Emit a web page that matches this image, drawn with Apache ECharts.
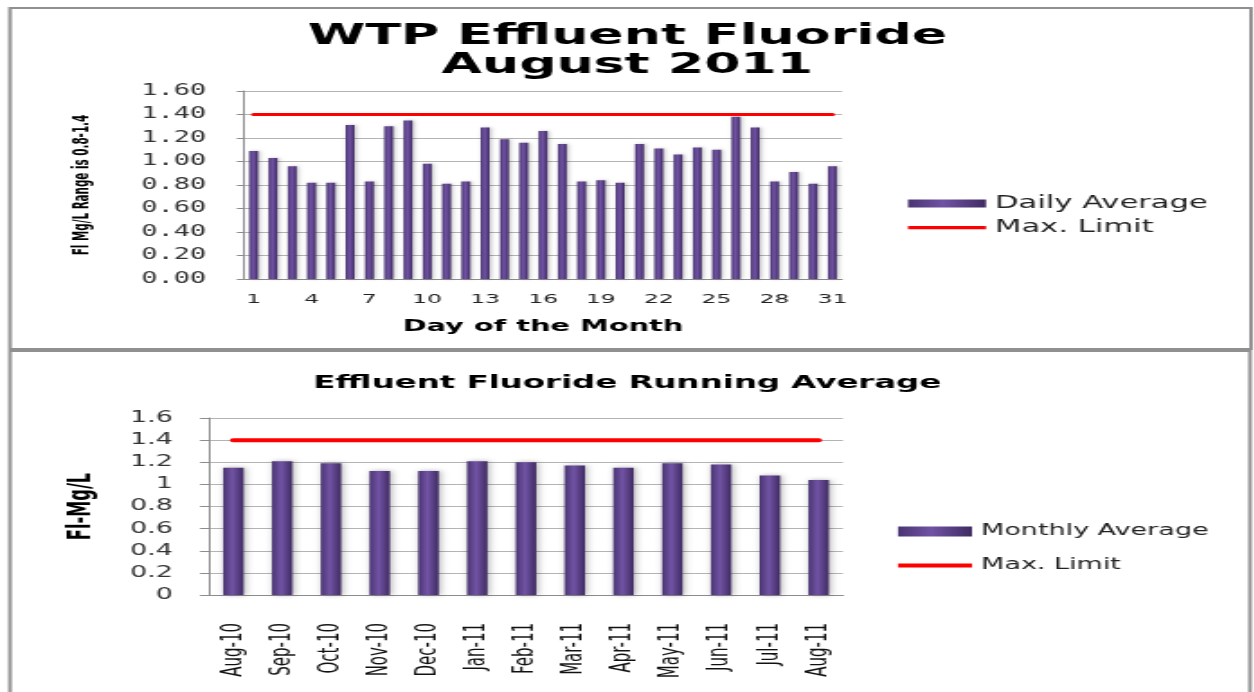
<!DOCTYPE html>
<html>
<head>
<meta charset="utf-8">
<title>WTP Effluent Fluoride</title>
<script src="https://cdn.jsdelivr.net/npm/echarts@6/dist/echarts.min.js"></script>
<style>
  html, body { margin: 0; padding: 0; background: #fff; overflow: hidden; }
  /* the source picture is stretched sideways, so draw narrow and stretch the canvas */
  #chart { width: 697px; height: 692px; transform: scaleX(1.8); transform-origin: 0 0; }
</style>
</head>
<body>
<div id="chart"></div>
<script>
// horizontal stretch of the whole picture
var SX = 1.8;

// top chart: daily values for August 2011
var days = ["1", "2", "3", "4", "5", "6", "7", "8", "9", "10", "11", "12", "13", "14", "15", "16",
  "17", "18", "19", "20", "21", "22", "23", "24", "25", "26", "27", "28", "29", "30", "31"];
var dailyAverage = [1.09, 1.03, 0.96, 0.82, 0.82, 1.31, 0.83, 1.30, 1.35, 0.98, 0.81, 0.83, 1.29, 1.19, 1.16, 1.26,
  1.15, 0.83, 0.84, 0.82, 1.15, 1.11, 1.06, 1.12, 1.10, 1.38, 1.29, 0.83, 0.91, 0.81, 0.96];

// bottom chart: running monthly average
var months = ["Aug-10", "Sep-10", "Oct-10", "Nov-10", "Dec-10", "Jan-11", "Feb-11",
  "Mar-11", "Apr-11", "May-11", "Jun-11", "Jul-11", "Aug-11"];
var monthlyAverage = [1.15, 1.21, 1.19, 1.12, 1.12, 1.21, 1.20, 1.17, 1.15, 1.19, 1.18, 1.08, 1.04];

var maxLimit = 1.4;

// convert an x position measured on the stretched picture
function sx(x) { return x / SX; }

var myChart = echarts.init(document.getElementById("chart"));

var barColor = new echarts.graphic.LinearGradient(0, 0, 1, 0, [
  { offset: 0, color: "#4a3572" },
  { offset: 0.45, color: "#7153a4" },
  { offset: 1, color: "#3f2b62" },
]);
var gridColor = "#b4b4b4";
var axisColor = "#8c8c8c";

var option = {
  backgroundColor: "#fff",
  graphic: [
    {
      // frame of each chart
      type: "rect", silent: true, z: -1,
      shape: { x: sx(10), y: 8, width: sx(1241), height: 341 },
      style: { fill: "none", stroke: "#909090", lineWidth: 2 },
    },
    {
      type: "rect", silent: true, z: -1,
      shape: { x: sx(10), y: 351, width: sx(1240), height: 360 },
      style: { fill: "none", stroke: "#909090", lineWidth: 2 },
    },
  ],
  title: [
    {
      text: "WTP Effluent Fluoride\nAugust 2011",
      left: "center",
      top: 17,
      textStyle: { fontFamily: "DejaVu Sans", fontWeight: "bold", fontSize: 29, lineHeight: 29, color: "#000" },
    },
    {
      text: "Effluent Fluoride Running Average",
      left: "center",
      top: 369,
      textStyle: { fontFamily: "DejaVu Sans", fontWeight: "bold", fontSize: 18, color: "#000" },
    },
  ],
  legend: [
    {
      data: [
        { name: "Daily Average", icon: "rect" },
        { name: "Max. Limit", icon: "path://M0,0H40V3H0Z" },
      ],
      orient: "vertical",
      left: sx(908),
      top: 195,
      padding: 0,
      itemWidth: sx(78),
      itemHeight: 8,
      itemGap: 7,
      textStyle: { fontFamily: "DejaVu Sans", fontSize: 17, color: "#222" },
    },
    {
      data: [
        { name: "Monthly Average", icon: "rect" },
        { name: "Max. Limit", icon: "path://M0,0H40V4H0Z" },
      ],
      orient: "vertical",
      left: sx(898),
      top: 524,
      padding: 0,
      itemWidth: sx(74),
      itemHeight: 10,
      itemGap: 19,
      textStyle: { fontFamily: "DejaVu Sans", fontSize: 15, color: "#222" },
    },
  ],
  grid: [
    { left: sx(244), width: sx(598), top: 91, height: 188 },
    { left: sx(209), width: sx(634), top: 418, height: 177 },
  ],
  xAxis: [
    {
      gridIndex: 0,
      type: "category",
      data: days,
      name: "Day of the Month",
      nameLocation: "middle",
      nameGap: 40,
      nameTextStyle: { fontFamily: "DejaVu Sans", fontWeight: "bold", fontSize: 16, color: "#000" },
      axisLine: { lineStyle: { color: axisColor } },
      axisTick: { interval: 0, length: 4, lineStyle: { color: axisColor } },
      axisLabel: { interval: 2, margin: 14, fontFamily: "DejaVu Sans", fontSize: 13, color: "#222" },
    },
    {
      gridIndex: 1,
      type: "category",
      data: months,
      axisLine: { lineStyle: { color: axisColor } },
      axisTick: { interval: 0, length: 5, lineStyle: { color: axisColor } },
      axisLabel: { interval: 0, rotate: 90, margin: 28, fontFamily: "DejaVu Sans", fontSize: 15, color: "#111" },
    },
  ],
  yAxis: [
    {
      gridIndex: 0,
      type: "value",
      min: 0,
      max: 1.6,
      interval: 0.2,
      name: "Fl Mg/L Range is 0.8-1.4",
      nameLocation: "middle",
      nameGap: 84,
      nameTextStyle: { fontFamily: "Liberation Sans Narrow, DejaVu Sans Condensed, sans-serif", fontWeight: "bold", fontSize: 11.5, color: "#000" },
      axisLine: { show: true, lineStyle: { color: axisColor } },
      axisTick: { show: true, length: 4, lineStyle: { color: axisColor } },
      splitLine: { lineStyle: { color: gridColor } },
      axisLabel: {
        margin: 21,
        fontFamily: "DejaVu Sans Mono",
        fontSize: 15,
        color: "#333",
        formatter: function (v) { return v.toFixed(2); },
      },
    },
    {
      gridIndex: 1,
      type: "value",
      min: 0,
      max: 1.6,
      interval: 0.2,
      name: "Fl-Mg/L",
      nameLocation: "middle",
      nameGap: 62,
      nameTextStyle: { fontFamily: "Liberation Sans Narrow, DejaVu Sans Condensed, sans-serif", fontWeight: "bold", fontSize: 18, color: "#000" },
      axisLine: { show: true, lineStyle: { color: axisColor } },
      axisTick: { show: true, length: 5, lineStyle: { color: axisColor } },
      splitLine: { lineStyle: { color: gridColor } },
      axisLabel: { margin: 20, fontFamily: "DejaVu Sans", fontSize: 15, color: "#333" },
    },
  ],
  series: [
    {
      name: "Daily Average",
      type: "bar",
      xAxisIndex: 0,
      yAxisIndex: 0,
      barWidth: "46%",
      data: dailyAverage,
      itemStyle: { color: barColor, shadowColor: "rgba(0,0,0,0.25)", shadowBlur: 3, shadowOffsetX: 1 },
    },
    {
      name: "Max. Limit",
      type: "line",
      xAxisIndex: 0,
      yAxisIndex: 0,
      symbol: "none",
      data: days.map(function () { return maxLimit; }),
      lineStyle: { color: "#ff0000", width: 3, cap: "round" },
      itemStyle: { color: "#ff0000" },
    },
    {
      name: "Monthly Average",
      type: "bar",
      xAxisIndex: 1,
      yAxisIndex: 1,
      barWidth: "42%",
      data: monthlyAverage,
      itemStyle: { color: barColor, shadowColor: "rgba(0,0,0,0.3)", shadowBlur: 4, shadowOffsetX: 1 },
    },
    {
      name: "Max. Limit",
      type: "line",
      xAxisIndex: 1,
      yAxisIndex: 1,
      symbol: "none",
      data: months.map(function () { return maxLimit; }),
      lineStyle: { color: "#ff0000", width: 4, cap: "round" },
      itemStyle: { color: "#ff0000" },
    },
  ],
};
myChart.setOption(option);
</script>
</body>
</html>
